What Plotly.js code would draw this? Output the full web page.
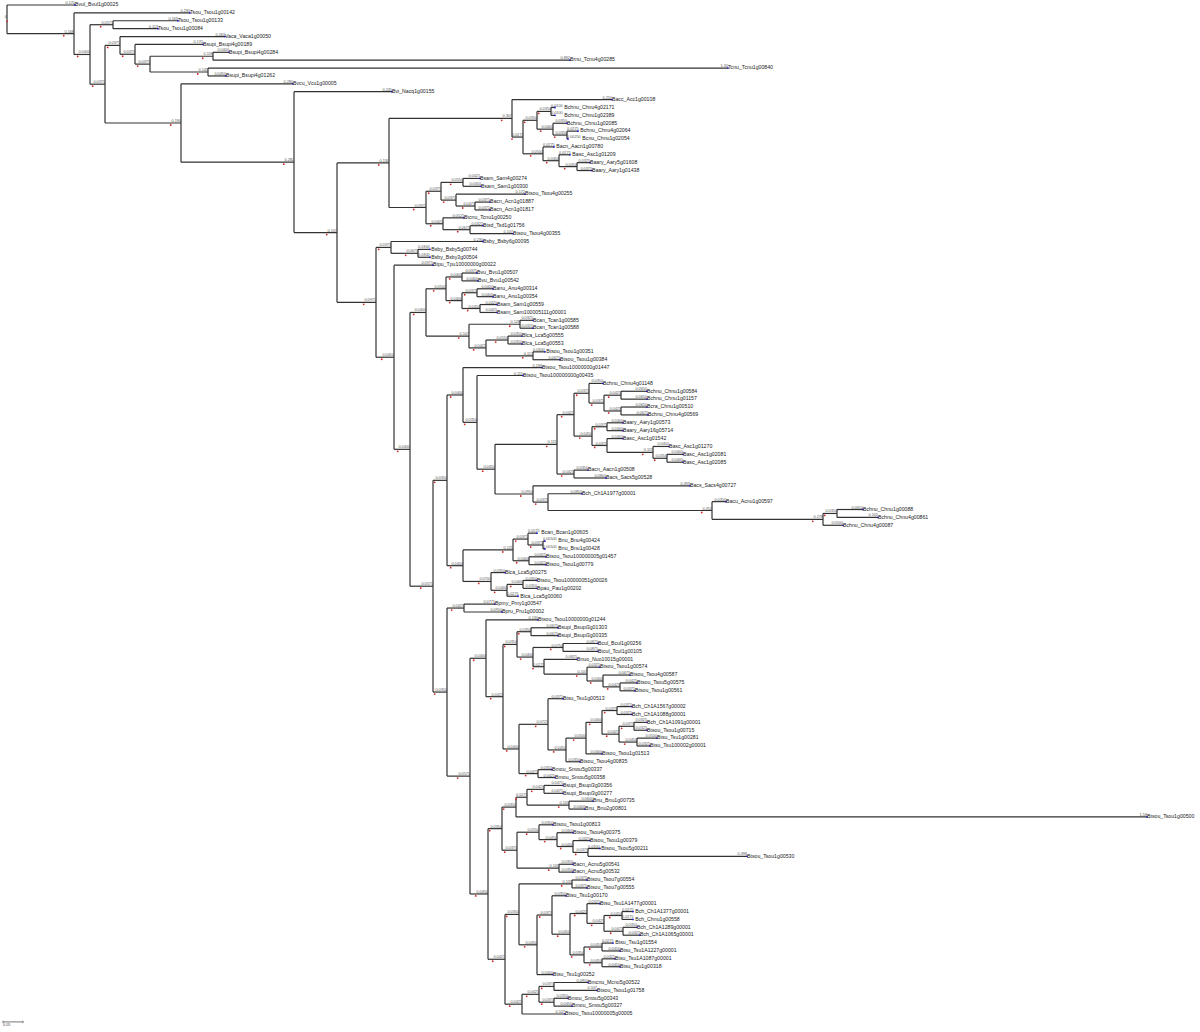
<!DOCTYPE html>
<html><head><meta charset="utf-8">
<script src="https://cdn.plot.ly/plotly-3.0.1.min.js"></script>
<style>html,body{margin:0;padding:0;background:#fff}#chart{width:1200px;height:1032px}</style>
</head><body><div id="chart"></div>
<script>
// ---------- DATA ----------
const leafNames = [
"Bvul_Bvul1g00025","Tsou_Tsou1g00142","Tsou_Tsou1g00133","Tsou_Tsou1g00084","Vaca_Vaca1g00050",
"Bsupi_Bsupi4g00189","Bsupi_Bsupi4g00284","Brnu_Tcnu4g00285","Tcnu_Tcnu1g00840","Bsupi_Bsupi4g01262",
"Bvcu_Vcu1g00005","Bvi_Nacq1g00155","Bacc_Acc1g00108","Bchnu_Chnu4g02171","Bchnu_Chnu1g02389",
"Bchnu_Chnu1g02085","Bchnu_Chnu4g02064","Bcnu_Chnu1g02054","Bacn_Aacn1g00780","Basc_Asc1g01209",
"Baary_Aary5g01608","Baary_Aary1g01438","Bsam_Sam4g00274","Bsam_Sam1g00300","Btsou_Tsou4g00255",
"Bacn_Acn1g01887","Bacn_Acn1g01817","Btcnu_Tcnu1g00250","Btsd_Tsd1g01756","Btsou_Tsou4g00355",
"Bsby_Bsby6g00095","Bsby_Bsby5g00744","Bsby_Bsby3g00504","Btpu_Tpu10000000g00022","Bvu_Bvu1g00507",
"Bvu_Bvu1g00542","Banu_Anu4g00314","Banu_Anu1g00354","Bsam_Sam1g00559","Bsam_Sam100005111g00001",
"Bcan_Tcan1g00585","Bcan_Tcan1g00588","Blca_Lca5g00555","Blca_Lca5g00553","Btsou_Tsou1g00351",
"Btsou_Tsou1g00384","Btsou_Tsou10000000g01447","Btsou_Tsou100000000g00435","Bchnu_Chnu4g01148","Bchnu_Chnu1g00584",
"Bchnu_Chnu1g01157","Bcra_Chnu1g00510","Bchnu_Chnu4g00569","Baary_Aary1g00573","Baary_Aary16g05714",
"Basc_Asc1g01542","Basc_Asc1g01270","Basc_Asc1g02081","Basc_Asc1g02085","Bacn_Aacn1g00508",
"Bacs_Sacs5g00528","Bacs_Sacs4g00727","Bch_Ch1A1977g00001","Bacu_Acnu1g00597","Bchnu_Chnu1g00088",
"Bchnu_Chnu4g00861","Bchnu_Chnu4g00087","Bcan_Bcan1g00605","Bnu_Bnu4g00424","Bnu_Bnu1g00428",
"Btsou_Tsou100000005g01457","Btsou_Tsou1g00779","Blca_Lca5g00275","Btsou_Tsou100000051g00026","Bpau_Pau1g00202",
"Blca_Lca5g00060","Bpmy_Pmy1g00547","Bpru_Pru1g00002","Btsou_Tsou10000000g01244","Bsupi_Bsupi3g01303",
"Bsupi_Bsupi3g00335","Bcul_Bcul1g00256","Btcul_Tcul1g00105","Bnuo_Nuo10015g00001","Btsou_Tsou1g00574",
"Btsou_Tsou4g00587","Btsou_Tsou5g00575","Btsou_Tsou1g00561","Btsu_Tsu1g00513","Bch_Ch1A1567g00002",
"Bch_Ch1A1088g00001","Bch_Ch1A1091g00001","Btsou_Tsou1g00715","Btsu_Tsu1g00281","Btsu_Tsu100002g00001",
"Btsou_Tsou1g01513","Btsou_Tsou4g00835","Bmou_Smou5g00337","Bmou_Smou5g00358","Bsupi_Bsupi3g00356",
"Bsupi_Bsupi3g00277","Bnu_Bnu1g00735","Bnu_Bnu2g00801","Btsou_Tsou1g00500","Btsou_Tsou1g00813",
"Btsou_Tsou4g00375","Btsou_Tsou1g00379","Btsou_Tsou5g00211","Btsou_Tsou1g00530","Bacn_Acnu5g00541",
"Bacn_Acnu5g00532","Btsou_Tsou7g00554","Btsou_Tsou7g00555","Btsu_Tsu1g00170","Btsu_Tsu1A1477g00001",
"Bch_Ch1A1377g00001","Bch_Chnu1g00558","Bch_Ch1A1289g00001","Bch_Ch1A1065g00001","Btsu_Tsu1g01554",
"Btsu_Tsu1A1227g00001","Btsu_Tsu1A1087g00001","Btsu_Tsu1g00318","Btsu_Tsu1g00252","Bmcnu_Mcnu5g00522",
"Btsou_Tsou1g01758","Bmou_Smou5g00343","Bmou_Smou5g00327","Btsou_Tsou10000005g00005"
];

// clade = child:branchLength, child:branchLength  (numbers = leaf index, 1-based)
const cladeDefs = [
"R=1:0.17,A:0.1675",
"A=2:0.29,B:0.04",
"B=C:0.0575,D:0.0375",
"C=3:0.1625,4:0.1125",
"D=E:0.0375,K:0.19",
"E=5:0.2625,F:0.0375",
"F=6:0.17,G:0.0375",
"G=H:0.1575,I:0.145",
"H=7:0.04,8:0.8925",
"I=9:1.3,10:0.045",
"K=11:0.28,L:0.2825",
"L=12:0.245,M:0.1075",
"M=P1:0.13,N:0.0975",
"P1=P2:0.3075,Q1:0.0925",
"P2=13:0.25,P3:0.0275",
"P3=P4:0.035,P8:0.05",
"P4=P5:0.035,P6:0.04",
"P5=14:0.01,15:0.01",
"P6=16:0.035,P7:0.035",
"P7=17:0.0275,18:0.0025",
"P8=19:0.0275,P9:0.04",
"P9=20:0.0275,P10:0.045",
"P10=21:0.0325,22:0.0375",
"Q1=Q2:0.0375,Q6:0.0425",
"Q2=Q3:0.055,Q4:0.0375",
"Q3=23:0.0425,24:0.045",
"Q4=25:0.1725,Q5:0.0475",
"Q5=26:0.0375,27:0.0375",
"Q6=28:0.0525,Q7:0.0675",
"Q7=29:0.0325,30:0.1075",
"N=S:0.0375,T:0.045",
"S=31:0.23,S2:0.0675",
"S2=32:0.03,33:0.03",
"T=34:0.0975,U:0.04",
"U=V:0.04,N433:0.0575",
"V=W:0.05,X:0.1075",
"W=W1:0.04,W2:0.04",
"W1=35:0.0375,36:0.04",
"W2=W3:0.0375,W4:0.045",
"W3=37:0.04,38:0.04",
"W4=39:0.0425,40:0.0425",
"X=X1:0.1275,X2:0.0425",
"X1=41:0.0325,42:0.0325",
"X2=X3:0.055,X4:0.1175",
"X3=43:0.035,44:0.035",
"X4=45:0.03,46:0.0675",
"N433=N447:0.035,N447b:0.035",
"N447=N463:0.04,N463b:0.04",
"N463=47:0.1975,N477:0.035",
"N477=48:0.115,N495:0.045",
"N495=N557:0.155,N533:0.095",
"N557=N574:0.0425,N574b:0.0425",
"N574=N589:0.0375,N592:0.045",
"N589=49:0.035,N604:0.0375",
"N604=N621a:0.0425,N621b:0.0425",
"N621a=50:0.065,51:0.065",
"N621b=52:0.065,53:0.0675",
"N592=N607a:0.0375,N607b:0.0375",
"N607a=54:0.04,55:0.04",
"N607b=56:0.04,N653:0.115",
"N653=57:0.04,N667:0.035",
"N667=58:0.04,59:0.04",
"N574b=60:0.035,61:0.08",
"N533=62:0.3925,N548:0.0375",
"N548=63:0.085,N712:0.41",
"N712=64:0.035,N823:0.2775",
"N823=N837:0.035,67:0.05",
"N837=65:0.065,66:0.1025",
"N463b=N513:0.125,N491:0.07",
"N513=N528:0.0375,N529:0.04",
"N528=68:0.0225,N543:0.0375",
"N543=69:0.005,70:0.005",
"N529=71:0.0425,72:0.0425",
"N491=73:0.035,N507:0.04",
"N507=N523:0.04,76:0.0275",
"N523=74:0.035,75:0.035",
"N447b=N464:0.0425,N470:0.0575",
"N464=77:0.0775,78:0.095",
"N470=N486:0.04,N488:0.045",
"N486=79:0.13,N503:0.0425",
"N503=N517:0.035,N519:0.04",
"N517=N531:0.035,N533b:0.04",
"N531=80:0.0675,81:0.0675",
"N533b=N563:0.075,N544:0.0275",
"N563=82:0.0875,83:0.0875",
"N544=84:0.0825,N587:0.1075",
"N587=85:0.0325,N603:0.04",
"N603=86:0.0675,N620:0.0425",
"N620=87:0.0425,88:0.0375",
"N519=N548b:0.0725,N538:0.0475",
"N548b=89:0.0375,N566:0.045",
"N566=N586:0.05,97:0.035",
"N586=N602:0.04,96:0.04",
"N602=N617:0.0375,N619:0.0425",
"N617=90:0.0375,91:0.0375",
"N619=N634:0.0375,N637:0.045",
"N634=92:0.0325,93:0.0325",
"N637=94:0.05,95:0.0325",
"N538=98:0.035,99:0.0425",
"N488=N502:0.035,N505:0.0425",
"N502=N516:0.035,N517b:0.0375",
"N516=N527:0.0275,104:1.5775",
"N527=N544b:0.0425,N569:0.105",
"N544b=100:0.0475,101:0.0475",
"N569=102:0.06,103:0.04",
"N517b=N539:0.055,N559:0.105",
"N539=105:0.035,N557b:0.045",
"N557b=106:0.04,N573:0.04",
"N573=107:0.0425,N588:0.0375",
"N588=108:0.03,109:0.3975",
"N559=110:0.035,111:0.035",
"N505=N519b:0.035,N522:0.0425",
"N519b=N572:0.1325,N537:0.045",
"N572=112:0.0375,113:0.0375",
"N537=N552:0.0375,124:0.04",
"N552=114:0.035,N570:0.045",
"N570=N587b:0.0425,N584:0.035",
"N587b=115:0.0325,N604b:0.0425",
"N604b=N622:0.045,N623:0.0475",
"N622=116:0.0275,117:0.0275",
"N623=118:0.035,119:0.0425",
"N584=N602a:0.045,N602b:0.045",
"N602a=120:0.0275,121:0.045",
"N602b=122:0.0325,123:0.045",
"N522=N539b:0.0425,129:0.1075",
"N539b=N554a:0.0375,N554b:0.0375",
"N554a=125:0.085,126:0.1075",
"N554b=127:0.035,128:0.045"
];
const scaleBarValue = 0.05;
const scaleBarLabel = "0.05";
const rootLabel = "0";

// ---------- BUILD TREE ----------
const defs = {};
cladeDefs.forEach(s => {
  const [nm, rest] = s.split('=');
  defs[nm] = rest.split(',').map(t => { const [c, l] = t.split(':'); return {name: c, len: parseFloat(l)}; });
});
const nodes = [];
let leafCounter = 0;
function build(name, depth, parentDepth, len) {
  const node = {name, depth, parentDepth, len};
  if (defs[name]) {
    node.children = defs[name].map(k => build(k.name, depth + k.len, depth, k.len));
    node.y = (node.children[0].y + node.children[node.children.length - 1].y) / 2;
  } else {
    node.y = leafCounter++;
    node.label = leafNames[parseInt(name, 10) - 1];
  }
  nodes.push(node);
  return node;
}
const root = build('R', 0, 0, 0);
const nLeaves = leafCounter;

// pixel geometry (1200 x 1032)
const W = 1200, H = 1032;
const rootPx = 7, topPx = 5, leafStepPx = 7.883;
const pxPerUnit = 400;
const xRange = [-rootPx / pxPerUnit, (W - rootPx) / pxPerUnit];
const yRange = [(H - topPx) / leafStepPx, -topPx / leafStepPx];
const pxX = p => p / pxPerUnit, pxY = p => p / leafStepPx;

function fmt(v) {
  if (v >= 1) return v.toFixed(2);
  if (v >= 0.1) return v.toFixed(3);
  return v.toPrecision(3);
}

const lx = [], ly = [];
const labEndX = [], labEndY = [], labEndT = [];
const labStartX = [], labStartY = [], labStartT = [];
const redX = [], redY = [];
const tipX = [], tipY = [], nameX = [], nameT = [];
const charW = 2.05;
nodes.forEach(n => {
  let nameAt = n.depth;
  if (n !== root) {
    lx.push(n.parentDepth, n.depth, null); ly.push(n.y, n.y, null);
    const t = fmt(n.len);
    const w = pxX(t.length * charW);
    if (n.len >= w) { labEndX.push(n.depth); labEndY.push(n.y); labEndT.push(t); }
    else {
      labStartX.push(n.parentDepth); labStartY.push(n.y); labStartT.push(t);
      nameAt = Math.max(n.depth, n.parentDepth + w + pxX(1));
    }
    if (n.children) { redX.push(Math.max(n.parentDepth, n.depth - w)); redY.push(n.y + pxY(2)); }
  }
  if (n.children) {
    lx.push(n.depth, n.depth, null);
    ly.push(n.children[0].y, n.children[n.children.length - 1].y, null);
  } else {
    tipX.push(n.depth); tipY.push(n.y); nameX.push(nameAt); nameT.push(n.label);
  }
});

const lineColor = 'rgb(50,50,50)';
const font = 'Liberation Sans, Arial, sans-serif';
const traces = [
  {type: 'scatter', mode: 'lines', x: lx, y: ly, line: {color: lineColor, width: 1.2}, hoverinfo: 'skip'},
  {type: 'scatter', mode: 'text', x: labEndX, y: labEndY, text: labEndT, textposition: 'top left',
   textfont: {family: font, size: 3.8, color: '#555'}, hoverinfo: 'skip'},
  {type: 'scatter', mode: 'text', x: labStartX, y: labStartY, text: labStartT, textposition: 'top right',
   textfont: {family: font, size: 3.8, color: '#555'}, hoverinfo: 'skip'},
  {type: 'scatter', mode: 'markers', x: redX, y: redY, marker: {color: 'rgb(210,40,40)', size: 1.8}, hoverinfo: 'skip'},
  {type: 'scatter', mode: 'markers', x: tipX, y: tipY, marker: {color: 'rgb(30,30,220)', size: 1.8}, hoverinfo: 'skip'},
  {type: 'scatter', mode: 'text', x: nameX, y: tipY, text: nameT, textposition: 'middle right',
   textfont: {family: font, size: 5.2, color: '#222'}, hoverinfo: 'skip'},
  // root label
  {type: 'scatter', mode: 'text', x: [0], y: [root.y], text: [rootLabel], textposition: 'top left',
   textfont: {family: font, size: 4, color: '#444'}, hoverinfo: 'skip'},
  {type: 'scatter', mode: 'markers', x: [0], y: [root.y + pxY(2)], marker: {color: 'rgb(210,40,40)', size: 1.8}, hoverinfo: 'skip'}
];

// scale bar
const sbX0 = pxX(3 - rootPx), sbY = nLeaves + 0.0;
const cap = pxY(1.2);
traces.push({type: 'scatter', mode: 'lines',
  x: [sbX0, sbX0 + scaleBarValue, null, sbX0, sbX0, null, sbX0 + scaleBarValue, sbX0 + scaleBarValue],
  y: [sbY, sbY, null, sbY - cap, sbY + cap, null, sbY - cap, sbY + cap],
  line: {color: '#777', width: 1}, hoverinfo: 'skip'});
traces.push({type: 'scatter', mode: 'text', x: [sbX0], y: [sbY + pxY(1)], text: [scaleBarLabel], textposition: 'bottom right',
  textfont: {family: font, size: 3.8, color: '#444'}, hoverinfo: 'skip'});

const layout = {
  width: W, height: H, margin: {l: 0, r: 0, t: 0, b: 0, pad: 0},
  paper_bgcolor: '#fff', plot_bgcolor: '#fff', showlegend: false,
  xaxis: {range: xRange, visible: false, fixedrange: true},
  yaxis: {range: yRange, visible: false, fixedrange: true}
};
Plotly.newPlot('chart', traces, layout, {staticPlot: true, displayModeBar: false});
</script>
</body></html>
